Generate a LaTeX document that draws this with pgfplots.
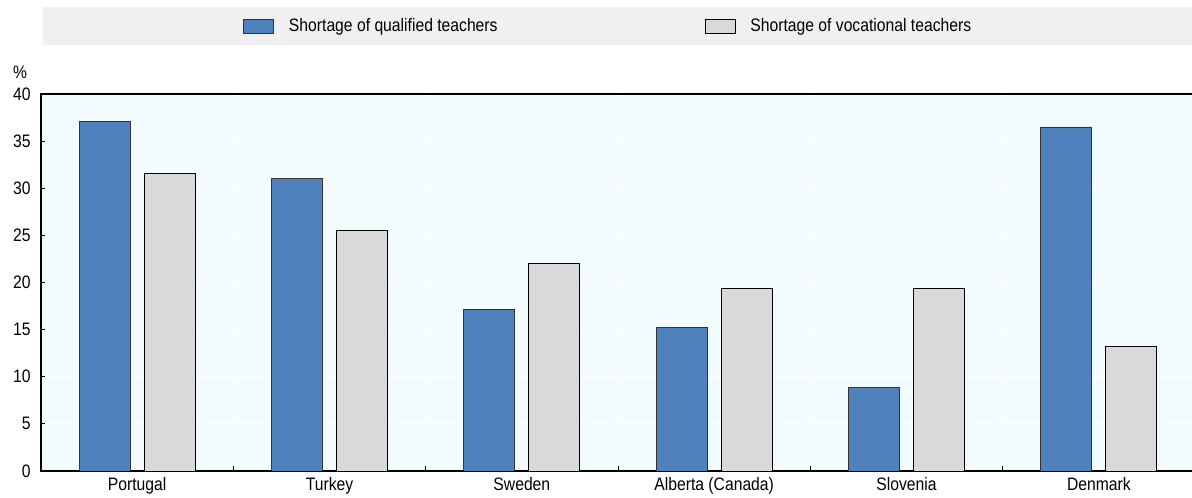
\documentclass[border=0pt]{standalone}
\usepackage{pgfplots}
\pgfplotsset{compat=1.18}
\usepackage{fontspec}
\setmainfont{Liberation Sans}
\definecolor{barblue}{HTML}{4F81BD}
\definecolor{bargrey}{HTML}{D9D9D9}
\definecolor{plotbg}{HTML}{F2FCFF}
\definecolor{legbg}{HTML}{F0F0F0}
\newcommand{\tall}[1]{\scalebox{1}[1.15]{#1}}
\begin{document}
\fontsize{15.7bp}{18bp}\selectfont
\begin{tikzpicture}[x=1bp,y=1bp]
\useasboundingbox (-41,-27) rectangle (1151,471);
\fill[legbg] (2,426) rectangle (1151,464);
\node at (-21,399) {\tall{\%}};
\begin{axis}[
  at={(0,0)}, anchor=south west,
  scale only axis, width=1154bp, height=377bp,
  xmin=-0.5, xmax=5.5, ymin=0, ymax=40,
  axis background/.style={fill=plotbg},
  xtick pos=left, ytick pos=left,
  axis line style={black, line width=1.2bp},
  ybar, bar width=51bp,
  ytick={0,5,...,40},
  /pgf/number format/assume math mode=true,
  yticklabel={\tall{\pgfmathprintnumber{\tick}}},
  xtick={0,...,5},
  xticklabels={\tall{Portugal},\tall{Turkey},\tall{Sweden},\tall{Alberta (Canada)},\tall{Slovenia},\tall{Denmark}},
  minor xtick={0.5,1.5,...,4.5},
  tick align=inside,
  major tick length=4bp,
  minor tick length=5bp,
  x tick style={draw=none},
  minor x tick style={draw=black, line width=1bp},
  y tick style={black, line width=1bp},
  ymajorgrids, xminorgrids,
  major grid style={white, line width=1bp},
  minor grid style={white, line width=1bp},
  tick label style={font=\fontsize{15.7bp}{18bp}\selectfont},
  yticklabel style={xshift=-5bp},
  xticklabel style={yshift=-1bp},
  legend columns=2,
  legend style={at={(202bp,445bp)}, anchor=west, draw=none, fill=none,
    inner sep=0pt, font=\fontsize{15.7bp}{18bp}\selectfont,
    /tikz/every odd column/.append style={column sep=13bp},
    /tikz/every even column/.append style={column sep=205bp}},
  legend image code/.code={\draw[#1, line width=0.8bp] (0bp,-7bp) rectangle (30bp,7bp);},
]
\addplot[fill=barblue, draw=black!80, line width=0.8bp, bar shift=-32.5bp] coordinates
  {(0,37.1) (1,31.0) (2,17.1) (3,15.2) (4,8.9) (5,36.5)};
\addlegendentry{\tall{Shortage of qualified teachers}}
\addplot[fill=bargrey, draw=black, line width=0.8bp, bar shift=32.5bp] coordinates
  {(0,31.6) (1,25.5) (2,22.0) (3,19.4) (4,19.4) (5,13.2)};
\addlegendentry{\tall{Shortage of vocational teachers}}
\end{axis}
\end{tikzpicture}
\end{document}
